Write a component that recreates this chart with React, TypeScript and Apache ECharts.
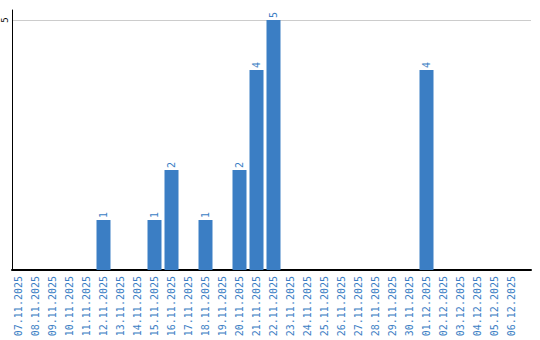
import React, { useEffect, useRef } from "react";
import * as echarts from "echarts";

const dates = [
  "07.11.2025", "08.11.2025", "09.11.2025", "10.11.2025", "11.11.2025",
  "12.11.2025", "13.11.2025", "14.11.2025", "15.11.2025", "16.11.2025",
  "17.11.2025", "18.11.2025", "19.11.2025", "20.11.2025", "21.11.2025",
  "22.11.2025", "23.11.2025", "24.11.2025", "25.11.2025", "26.11.2025",
  "27.11.2025", "28.11.2025", "29.11.2025", "30.11.2025", "01.12.2025",
  "02.12.2025", "03.12.2025", "04.12.2025", "05.12.2025", "06.12.2025",
];
const counts = [
  0, 0, 0, 0, 0,
  1, 0, 0, 1, 2,
  0, 1, 0, 2, 4,
  5, 0, 0, 0, 0,
  0, 0, 0, 0, 4,
  0, 0, 0, 0, 0,
];
const yTickLabels = [5];

const BLUE = "#3b7ec4";
const FONT = "DejaVu Sans Mono";

export default function App() {
  const ref = useRef<HTMLDivElement>(null);
  useEffect(() => {
    if (!ref.current) return;
    const chart = echarts.init(ref.current, undefined, { renderer: "svg" });
    chart.setOption({
      animation: false,
      backgroundColor: "#fff",
      grid: [
        { left: 10, top: 10, width: 510, height: 260 },
        { left: 10, top: 10, right: 9, height: 260 },
      ],
      xAxis: [
        {
          type: "category",
          gridIndex: 0,
          data: dates,
          axisLine: { show: false },
          axisTick: { show: false },
          axisLabel: {
            interval: 0,
            rotate: 90,
            margin: 6,
            color: BLUE,
            fontFamily: FONT,
            fontSize: 10,
          },
        },
        {
          type: "value",
          gridIndex: 1,
          min: 0,
          max: 1,
          axisLine: { show: true, lineStyle: { color: "#000", width: 2 } },
          axisTick: { show: false },
          axisLabel: { show: false },
          splitLine: { show: false },
        },
      ],
      yAxis: [
        { type: "value", gridIndex: 0, min: 0, max: 5.2, show: false },
        {
          type: "value",
          gridIndex: 1,
          min: 0,
          max: 5.2,
          interval: 5,
          axisLine: { show: true, lineStyle: { color: "#000", width: 1 } },
          axisTick: { show: false },
          axisLabel: {
            rotate: 90,
            margin: 3,
            fontSize: 9,
            fontFamily: FONT,
            color: "#000",
            showMaxLabel: false,
            formatter: (v: number) => (yTickLabels.includes(v) ? String(v) : ""),
          },
          splitLine: {
            show: true,
            showMinLine: false,
            showMaxLine: false,
            lineStyle: { color: "#cccccc", width: 1 },
          },
        },
      ],
      series: [
        {
          type: "bar",
          xAxisIndex: 0,
          yAxisIndex: 0,
          data: counts,
          barWidth: 14,
          itemStyle: { color: BLUE },
          label: {
            show: true,
            position: "top",
            rotate: 90,
            align: "left",
            verticalAlign: "middle",
            distance: 2,
            fontSize: 10,
            fontFamily: FONT,
            color: BLUE,
            formatter: (p: any) => (p.value ? String(p.value) : ""),
          },
        },
      ],
    });
    return () => chart.dispose();
  }, []);
  return <div ref={ref} style={{ width: 540, height: 340, position: "absolute", left: 0, top: 0 }} />;
}
